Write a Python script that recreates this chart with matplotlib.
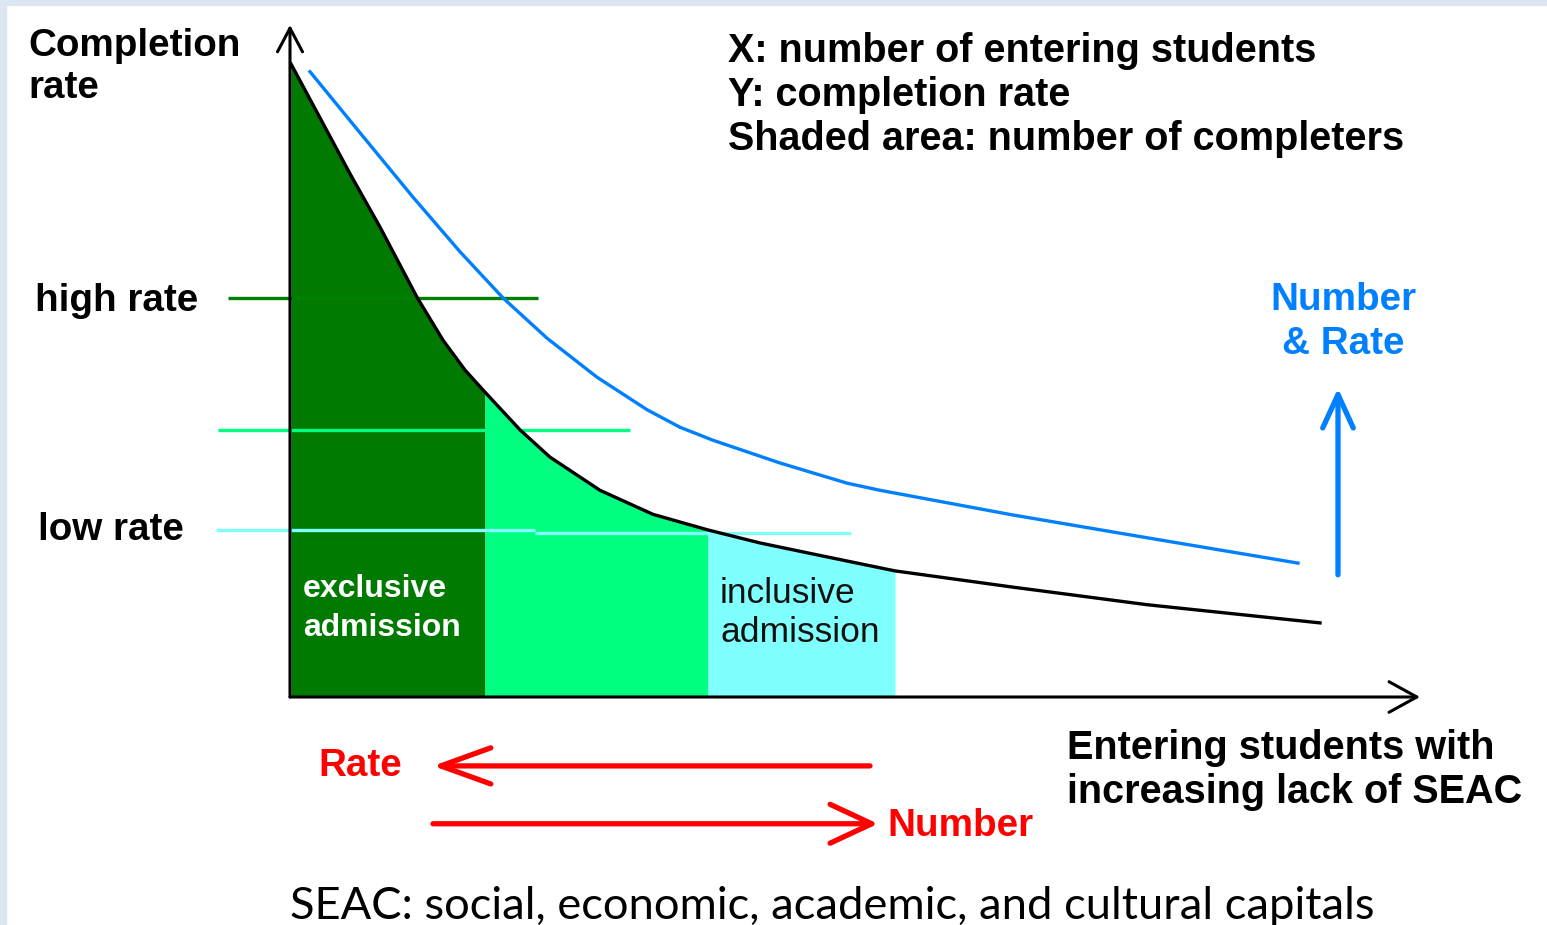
import numpy as np
import matplotlib
matplotlib.use("Agg")
import matplotlib.pyplot as plt
from matplotlib.patches import Rectangle

W, H = 1547, 925

# conceptual curve: x = entering students, y = completion rate
rate_x = [0.1, 3.0, 6.0, 9.0, 12.7, 15.3, 17.5, 19.5, 23.0, 26.0, 31.0, 36.3, 41.8,
          47.0, 52.3, 60.5, 72.3, 85.7, 103.0]
rate_y = [97.4, 89.1, 80.5, 72.3, 61.5, 54.9, 50.3, 46.9, 41.1, 36.9, 31.8, 28.1, 25.7,
          23.7, 22.0, 19.4, 16.9, 14.2, 11.4]

# "number & rate" improved curve (blue)
better_x = [2.0, 7.0, 12.3, 17.0, 21.3, 25.7, 30.7, 35.7, 39.0, 42.3, 49.0, 55.7, 59.0,
            72.3, 85.7, 100.8]
better_y = [96.2, 86.8, 76.9, 68.5, 61.4, 55.2, 49.2, 44.2, 41.5, 39.5, 36.0, 32.9, 31.8,
            28.0, 24.5, 20.6]

# admission bands (x ranges)
exclusive_cut = 19.5
middle_cut = 41.8
inclusive_cut = 60.5

# rate levels: (y, x_start, x_end)
high_level = (61.4, -6.2, 24.8)
mid_level = (41.1, -7.2, 34.0)
low_level_a = (25.7, -7.4, 24.5)
low_level_b = (25.2, 24.5, 56.1)

info_lines = ["X: number of entering students", "Y: completion rate",
              "Shaded area: number of completers"]
xlab_lines = ["Entering students with", "increasing lack of SEAC"]
footnote = "SEAC: social, economic, academic, and cultural capitals"

DKGREEN = "#007a00"
GREEN = "#00ff80"
CYAN = "#80ffff"
BLUE = "#0080ff"
RED = "#ff0000"

fig = plt.figure(figsize=(W / 100, H / 100), dpi=100, facecolor="white")
ax = fig.add_axes([0, 0, 1, 1])
# 10 px per x unit, 6.5 px per y unit, origin at pixel (290, 697)
ax.set_xlim(-290 / 10, (W - 290) / 10)
ax.set_ylim((697 - H) / 6.5, 697 / 6.5)
ax.axis("off")

fig.patches.append(Rectangle((0, 0), 6 / W, 1, transform=fig.transFigure, color="#dce6f2", zorder=0))
fig.patches.append(Rectangle((0, 1 - 5 / H), 1, 5 / H, transform=fig.transFigure, color="#dce6f2", zorder=0))

x = np.array(rate_x)
y = np.array(rate_y)
ax.fill_between(x, y, where=x <= exclusive_cut, color=DKGREEN, lw=0, zorder=1)
ax.fill_between(x, y, where=(x >= exclusive_cut) & (x <= middle_cut), color=GREEN, lw=0, zorder=1)
ax.fill_between(x, y, where=(x >= middle_cut) & (x <= inclusive_cut), color=CYAN, lw=0, zorder=1)
# left edge of fill at the axis
ax.fill_between([0, x[0]], [y[0], y[0]], color=DKGREEN, lw=0, zorder=1)

for (ly, x0, x1), c in [(high_level, "#008000"), (mid_level, GREEN),
                        (low_level_a, CYAN), (low_level_b, CYAN)]:
    ax.plot([x0, x1], [ly, ly], color=c, lw=2.4, zorder=2, solid_capstyle="butt")

ax.plot(rate_x, rate_y, color="black", lw=2.4, zorder=3, solid_joinstyle="round")
ax.plot(better_x, better_y, color=BLUE, lw=2.4, zorder=3, solid_joinstyle="round")

# axes with open arrowheads
ax.annotate("", xy=(113, 0), xytext=(0, 0),
            arrowprops=dict(arrowstyle="->,head_length=20,head_width=11", mutation_scale=1,
                            color="black", lw=2.2, shrinkA=0, shrinkB=0), zorder=4)
ax.annotate("", xy=(0, 103.4), xytext=(0, 0),
            arrowprops=dict(arrowstyle="->,head_length=17,head_width=9", mutation_scale=1,
                            color="black", lw=2.2, shrinkA=0, shrinkB=0), zorder=4)

# rate / number arrows
ax.annotate("", xy=(14.3, -10.6), xytext=(58.0, -10.6),
            arrowprops=dict(arrowstyle="->,head_length=36,head_width=13", mutation_scale=1,
                            color=RED, lw=3.8, shrinkA=0, shrinkB=0))
ax.annotate("", xy=(58.8, -19.5), xytext=(14.3, -19.5),
            arrowprops=dict(arrowstyle="->,head_length=30,head_width=14", mutation_scale=1,
                            color=RED, lw=3.8, shrinkA=0, shrinkB=0))
ax.annotate("", xy=(104.8, 47.5), xytext=(104.8, 18.8),
            arrowprops=dict(arrowstyle="->,head_length=24,head_width=11", mutation_scale=1,
                            color=BLUE, lw=3.8, shrinkA=0, shrinkB=0))


def fxy(px, py):
    return px / W, 1 - py / H


bold = dict(family="Liberation Sans", weight="bold", fontsize=27.8, va="baseline")
bold_big = dict(bold, fontsize=28.5)

fig.text(*fxy(28, 56), "Completion", **bold)
fig.text(*fxy(28, 98), "rate", **bold)
fig.text(*fxy(35, 311), "high rate", **bold)
fig.text(*fxy(38, 540), "low rate", **bold)
for i, s in enumerate(info_lines):
    fig.text(*fxy(728, 62 + 44 * i), s, **bold_big)
fig.text(*fxy(1343, 310), "Number", color=BLUE, ha="center", **bold)
fig.text(*fxy(1343, 354), "& Rate", color=BLUE, ha="center", **bold)
fig.text(*fxy(318, 776), "Rate", color=RED, **bold)
fig.text(*fxy(887, 836), "Number", color=RED, **bold)
for i, s in enumerate(xlab_lines):
    fig.text(*fxy(1067, 759 + 44 * i), s, **bold_big)

fig.text(*fxy(303, 597), "exclusive", color="white", family="Liberation Sans",
         weight="bold", fontsize=23, va="baseline")
fig.text(*fxy(303, 636), "admission", color="white", family="Liberation Sans",
         weight="bold", fontsize=23, va="baseline")
fig.text(*fxy(720, 603), "inclusive", color="#111111", family="Liberation Sans",
         fontsize=25.5, va="baseline")
fig.text(*fxy(720, 642), "admission", color="#111111", family="Liberation Sans",
         fontsize=25.5, va="baseline")

fig.text(*fxy(290, 919), footnote, family="Lato", fontsize=32.6, va="baseline")

fig.savefig("out.png", dpi=100, facecolor="white")
